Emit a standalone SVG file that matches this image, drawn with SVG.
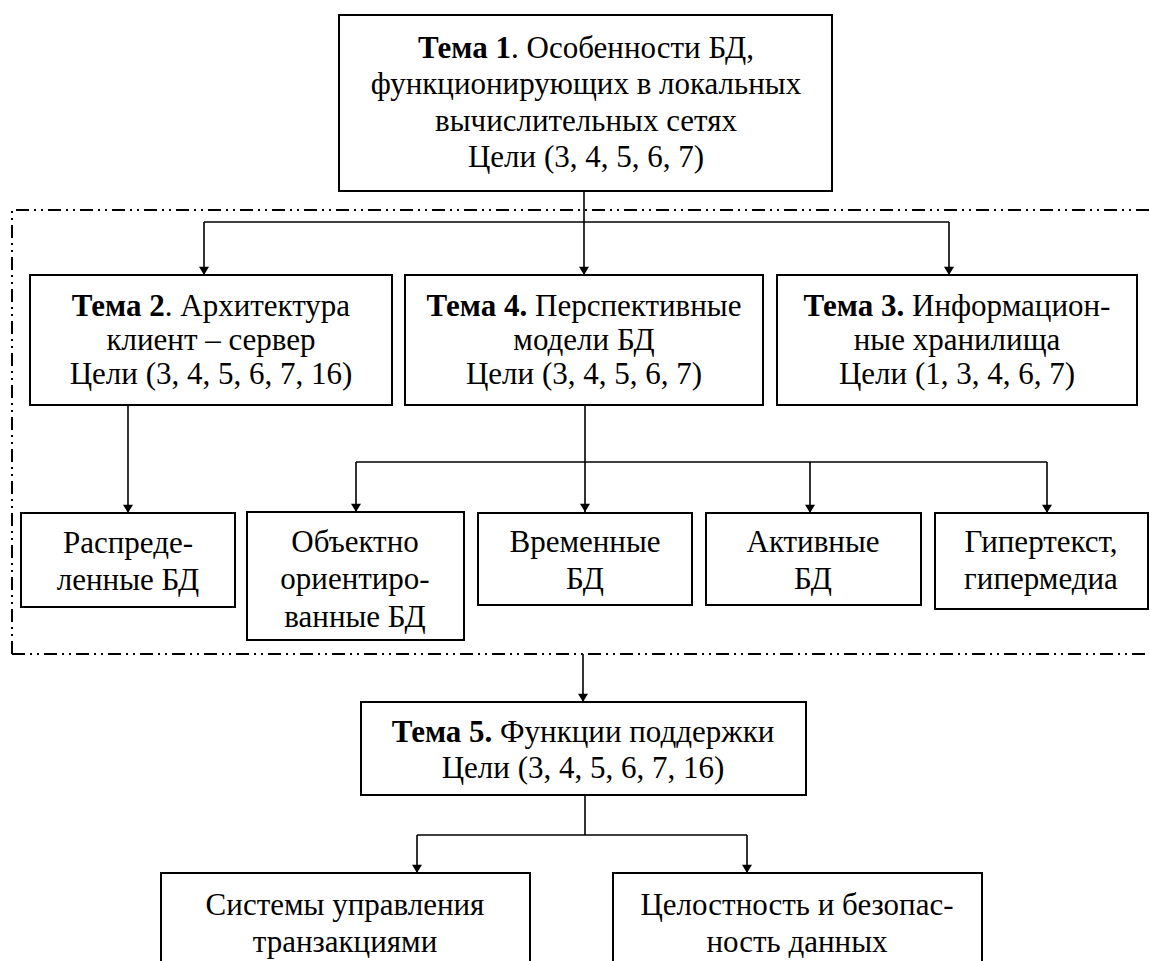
<svg xmlns="http://www.w3.org/2000/svg" width="1150" height="961" viewBox="0 0 1150 961">
<style>
  .box { fill: #fff; stroke: #000; stroke-width: 2; }
  .t { font-family: "Liberation Serif", "Times New Roman", serif; font-size: 31px; fill: #000; text-anchor: middle; }
  .b { font-weight: bold; }
  .c { fill: none; stroke: #000; stroke-width: 1.6; }
  .ca { fill: none; stroke: #000; stroke-width: 1.6; marker-end: url(#arr); }
  .dd { fill: none; stroke: #000; stroke-width: 2; stroke-dasharray: 13 5 2 5 2 5; }
</style>
<defs>
  <marker id="arr" viewBox="0 0 10 12" refX="10" refY="6" markerWidth="13" markerHeight="10" markerUnits="userSpaceOnUse" orient="auto">
    <path d="M0,0 L10,6 L0,12 z" fill="#000"/>
  </marker>
</defs>
<rect width="1150" height="961" fill="#fff"/>

<g id="group-frame">
  <path class="dd" d="M12,654 L12,210 L1150,210"/>
  <path class="dd" d="M12,654 L1150,654"/>
</g>

<g id="connectors">
  <path class="ca" d="M584,191 L584,275"/>
  <path class="c" d="M204,222 L949,222"/>
  <path class="ca" d="M204,222 L204,275"/>
  <path class="ca" d="M949,222 L949,275"/>
  <path class="ca" d="M128,405 L128,513"/>
  <path class="ca" d="M585,405 L585,512"/>
  <path class="c" d="M356,462 L1047,462"/>
  <path class="ca" d="M356,462 L356,512"/>
  <path class="ca" d="M810,462 L810,513"/>
  <path class="ca" d="M1047,462 L1047,513"/>
  <path class="ca" d="M583,654 L583,702"/>
  <path class="c" d="M585,795 L585,835"/>
  <path class="c" d="M417,835 L747,835"/>
  <path class="ca" d="M417,835 L417,873"/>
  <path class="ca" d="M747,835 L747,873"/>
</g>

<g id="node-tema1">
  <rect class="box" x="339" y="15" width="493" height="176"/>
  <text class="t" x="586" y="58"><tspan class="b">Тема 1</tspan>. Особенности БД,</text>
  <text class="t" x="586" y="94">функционирующих в локальных</text>
  <text class="t" x="586" y="131">вычислительных сетях</text>
  <text class="t" x="586" y="167">Цели (3, 4, 5, 6, 7)</text>
</g>

<g id="node-tema2">
  <rect class="box" x="30" y="275" width="362" height="130"/>
  <text class="t" x="211" y="316"><tspan class="b">Тема 2</tspan>. Архитектура</text>
  <text class="t" x="211" y="350">клиент – сервер</text>
  <text class="t" x="211" y="384">Цели (3, 4, 5, 6, 7, 16)</text>
</g>

<g id="node-tema4">
  <rect class="box" x="405" y="275" width="358" height="130"/>
  <text class="t" x="584" y="316"><tspan class="b">Тема 4.</tspan> Перспективные</text>
  <text class="t" x="584" y="350">модели БД</text>
  <text class="t" x="584" y="384">Цели (3, 4, 5, 6, 7)</text>
</g>

<g id="node-tema3">
  <rect class="box" x="777" y="275" width="360" height="130"/>
  <text class="t" x="957" y="316"><tspan class="b">Тема 3.</tspan> Информацион-</text>
  <text class="t" x="957" y="350">ные хранилища</text>
  <text class="t" x="957" y="384">Цели (1, 3, 4, 6, 7)</text>
</g>

<g id="node-raspred">
  <rect class="box" x="21" y="513" width="214" height="94"/>
  <text class="t" x="128" y="553">Распреде-</text>
  <text class="t" x="128" y="590">ленные БД</text>
</g>

<g id="node-object">
  <rect class="box" x="247" y="512" width="217" height="128"/>
  <text class="t" x="355" y="552">Объектно</text>
  <text class="t" x="355" y="589">ориентиро-</text>
  <text class="t" x="355" y="627">ванные БД</text>
</g>

<g id="node-vremen">
  <rect class="box" x="478" y="513" width="214" height="92"/>
  <text class="t" x="585" y="552">Временные</text>
  <text class="t" x="585" y="589">БД</text>
</g>

<g id="node-aktiv">
  <rect class="box" x="706" y="513" width="215" height="92"/>
  <text class="t" x="813" y="552">Активные</text>
  <text class="t" x="813" y="589">БД</text>
</g>

<g id="node-giper">
  <rect class="box" x="935" y="513" width="213" height="96"/>
  <text class="t" x="1041" y="552">Гипертекст,</text>
  <text class="t" x="1041" y="589">гипермедиа</text>
</g>

<g id="node-tema5">
  <rect class="box" x="361" y="702" width="445" height="93"/>
  <text class="t" x="583" y="742"><tspan class="b">Тема 5.</tspan> Функции поддержки</text>
  <text class="t" x="583" y="778">Цели (3, 4, 5, 6, 7, 16)</text>
</g>

<g id="node-transact">
  <rect class="box" x="161" y="873" width="369" height="100"/>
  <text class="t" x="345" y="915">Системы управления</text>
  <text class="t" x="345" y="952">транзакциями</text>
</g>

<g id="node-integr">
  <rect class="box" x="613" y="873" width="369" height="100"/>
  <text class="t" x="797" y="915">Целостность и безопас-</text>
  <text class="t" x="797" y="952">ность данных</text>
</g>
</svg>
